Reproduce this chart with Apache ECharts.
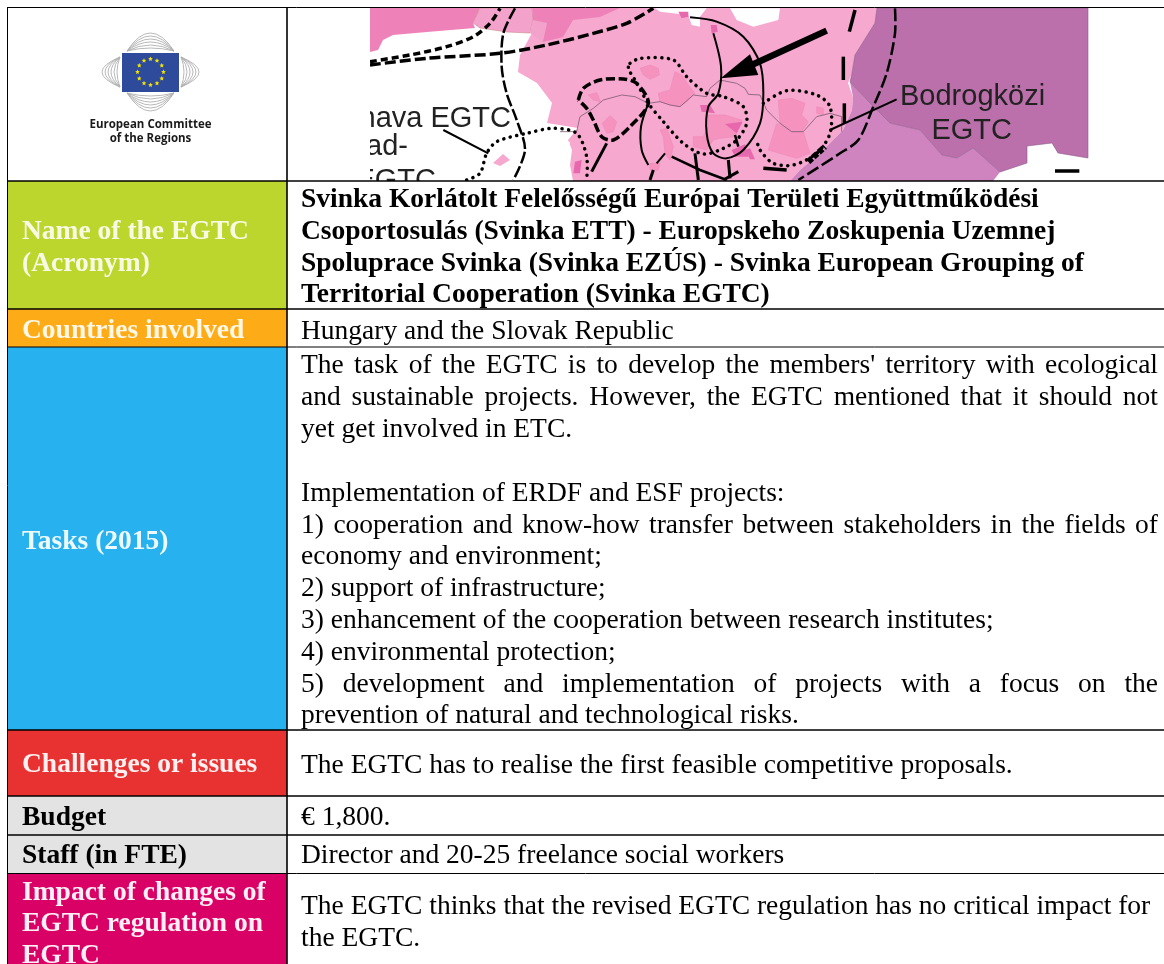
<!DOCTYPE html>
<html>
<head>
<meta charset="utf-8">
<style>
  html, body { margin: 0; padding: 0; background: #fff; }
  #main { width: 1164px; height: 964px; overflow: hidden; }
</style>
<script src="https://cdn.jsdelivr.net/npm/echarts@6/dist/echarts.min.js"></script>
</head>
<body>
<div id="main"></div>
<script>
// table content
var rowNames = [
  ['Name of the EGTC', '(Acronym)'],
  ['Countries involved'],
  ['Tasks (2015)'],
  ['Challenges or issues'],
  ['Budget'],
  ['Staff (in FTE)'],
  ['Impact of changes of', 'EGTC regulation on', 'EGTC']
];
var egtcName = [
  'Svinka Korlátolt Felelősségű Európai Területi Együttműködési',
  'Csoportosulás (Svinka ETT) - Europskeho Zoskupenia Uzemnej',
  'Spoluprace Svinka (Svinka EZÚS) - Svinka European Grouping of',
  'Territorial Cooperation (Svinka EGTC)'
];
var countries = ['Hungary and the Slovak Republic'];
var tasks = [
  "The task of the EGTC is to develop the members' territory with ecological",
  'and sustainable projects. However, the EGTC mentioned that it should not',
  'yet get involved in ETC.',
  '',
  'Implementation of ERDF and ESF projects:',
  '1) cooperation and know-how transfer between stakeholders in the fields of',
  'economy and environment;',
  '2) support of infrastructure;',
  '3) enhancement of the cooperation between research institutes;',
  '4) environmental protection;',
  '5) development and implementation of projects with a focus on the',
  'prevention of natural and technological risks.'
];
var challenges = ['The EGTC has to realise the first feasible competitive proposals.'];
var budget = ['€ 1,800.'];
var staff = ['Director and 20-25 freelance social workers'];
var impact = [
  'The EGTC thinks that the revised EGTC regulation has no critical impact for',
  'the EGTC.'
];
var logoText = ['European Committee', 'of the Regions'];
var mapLabels = ['Bodrogközi', 'EGTC', 'nava EGTC', 'rad-', 'EGTC'];

// layout of the table
var rowColors = ['#BDD62E', '#FDAB16', '#27B1EF', '#E83131', '#E3E3E3', '#E3E3E3', '#D90066'];
var nameColors = ['#F8FAE4', '#FFF8E8', '#EEF9FE', '#FEF0F0', '#000', '#000', '#FEEFF5'];
var rowEdges = [181, 309, 347, 730, 796, 835, 873, 964];
var nameY = [[232, 264], [331], [542], [765], [818], [856], [893, 924, 956]];
var bodyRows = [
  { lines: egtcName, y: [200, 232, 264, 295], bold: true },
  { lines: countries, y: [332] },
  { lines: tasks, y: [366, 398, 430, 462, 494, 526, 557, 589, 621, 653, 685, 716], justify: [0, 1, 5, 10] },
  { lines: challenges, y: [766] },
  { lines: budget, y: [818] },
  { lines: staff, y: [856] },
  { lines: impact, y: [907, 939] }
];
var serif = '"Liberation Serif", "Times New Roman", serif';
var textSize = 27.5;

var measure = document.createElement('canvas').getContext('2d');

function txt(api, x, y, text, font, fill, align) {
  var p = api.coord([x, y]);
  return {
    type: 'text',
    style: { x: p[0], y: p[1], text: text, font: font, fill: fill, align: align || 'left', verticalAlign: 'middle' }
  };
}
function box(api, x0, y0, x1, y1, fill) {
  var a = api.coord([x0, y0]), b = api.coord([x1, y1]);
  return { type: 'rect', shape: { x: a[0], y: a[1], width: b[0] - a[0], height: b[1] - a[1] }, style: { fill: fill } };
}
function rule(api, x0, y0, x1, y1, w) {
  var a = api.coord([x0, y0]), b = api.coord([x1, y1]);
  return { type: 'line', shape: { x1: a[0], y1: a[1], x2: b[0], y2: b[1] }, style: { stroke: '#000', lineWidth: w } };
}

// the map picture in the header cell
function area(api, pts, fill, stroke) {
  return {
    type: 'polygon',
    shape: { points: pts.map(function (p) { return api.coord(p); }) },
    style: { fill: fill, stroke: stroke || null, lineWidth: stroke ? 0.6 : 0 }
  };
}
function stroke(api, pts, w, dash, smooth) {
  return {
    type: 'polyline',
    shape: { points: pts.map(function (p) { return api.coord(p); }), smooth: smooth === undefined ? 0.3 : smooth },
    style: { fill: null, stroke: '#000', lineWidth: w, lineDash: dash || null, lineCap: dash && dash[0] < 1 ? 'round' : 'butt' }
  };
}
// zoomed crop coords: z2 starts at x 360, z7 at x 560, z3 at x 760, all scaled by 3
function zc(ox, list) {
  return list.map(function (p) { return [ox + p[0] / 3, p[1] / 3]; });
}
var dotted = [0.1, 6.5];

function renderMap(params, api) {
  var c = [];
  var pale = '#F6A8CF', mid = '#F592BE', dark = '#E868AE';
  c.push(area(api, [[532,33],[533,8],[877,8],[875,23],[855,55],[852,73],[848,83],[853,97],[852,110],[843,130],[820,153],[800,170],[790,181],[573,181],[570,165],[572,150],[568,140],[578,128],[547,123],[552,103],[537,83],[518,72],[520,55]], pale));
  c.push(area(api, [[370,8],[480,8],[473,23],[475,28],[427,32],[393,35],[383,40],[378,50],[370,52]], '#EE82B8'));
  c.push(area(api, [[473,23],[480,8],[532,8],[533,20],[530,33],[507,32],[480,28]], '#F3A2CB', '#C88'));
  c.push(area(api, [[532,8],[620,8],[600,17],[573,20],[563,37],[543,42],[533,20]], '#EE82B8'));
  c.push(area(api, [[533,20],[547,23],[543,42],[530,33]], '#F3A2CB'));
  // purple counties
  c.push(area(api, [[850,82],[870,103],[890,123],[920,130],[942,155],[957,158],[973,148],[1000,172],[993,181],[790,181],[800,170],[820,153],[843,130],[852,110],[853,97]], '#CF83BF'));
  c.push(area(api, [[877,8],[1088,8],[1088,158],[1058,153],[1052,143],[1027,146],[1027,163],[1000,172],[973,148],[957,158],[942,155],[920,130],[890,123],[870,103],[850,82],[852,73],[855,55],[875,23]], '#BB6FAB', '#8a5a88'));
  // holes at the top of the picture
  c.push(area(api, zc(560, [[285,25],[440,25],[420,50],[420,80],[395,75],[385,45],[300,35]]), '#fff'));
  c.push(area(api, zc(560, [[510,25],[660,25],[655,60],[580,80],[530,60]]), '#fff'));
  // member areas
  var z7 = [
    [[240,205],[270,195],[295,205],[298,225],[270,238],[250,225]],
    [[295,280],[330,270],[345,215],[365,225],[385,255],[405,280],[380,305],[360,320],[330,315],[300,305]],
    [[85,285],[110,278],[122,305],[100,300]],
    [[127,370],[150,347],[170,365],[160,395],[140,400]],
    [[445,345],[495,345],[545,360],[525,410],[480,415],[460,420],[440,450],[400,440],[400,410],[430,410],[445,380]],
    [[655,300],[695,295],[735,310],[725,345],[745,365],[725,395],[695,395],[660,370]],
    [[650,370],[695,395],[730,395],[750,460],[710,475],[625,450]],
    [[770,320],[790,325],[790,345],[770,340]],
    [[300,390],[320,385],[340,440],[330,480],[315,460],[310,410]],
    [[270,490],[300,490],[295,510],[270,510]]
  ];
  z7.forEach(function (z) { c.push(area(api, zc(560, z), mid, '#EE8AB8')); });
  var z7dark = [
    [[420,315],[450,315],[465,340],[425,335]],
    [[495,372],[548,365],[530,400]],
    [[515,450],[555,433],[565,470],[525,470]],
    [[555,450],[570,445],[585,478],[570,478]],
    [[355,35],[385,35],[385,50],[365,55]],
    [[452,75],[470,75],[473,95],[455,100]],
    [[45,485],[65,480],[60,520],[40,520]]
  ];
  z7dark.forEach(function (z) { c.push(area(api, zc(560, z), dark)); });
  c.push(area(api, [[493,163],[503,154],[510,160],[500,166]], pale));
  c.push(area(api, zc(560, [[0,430],[30,425],[20,470],[0,505]]), '#fff'));
  // state border
  var border = stroke(api, zc(560, [[0,395],[50,395],[60,350],[100,325],[130,300],[185,285],[225,290],[265,310],[300,305],[330,315],[360,320],[400,285],[440,290],[450,265],[480,240],[530,250],[555,265],[565,283],[600,285],[620,330],[660,370],[695,395],[730,395],[770,350],[810,340],[845,350],[845,395]]), 0.8, null, 0);
  border.style.stroke = '#7a5a70';
  c.push(border);
  // corridors, thick dashes
  c.push(stroke(api, zc(360, [[30,195],[200,175],[420,160],[560,135],[700,100],[800,70],[880,25]]), 3.5, [11, 4]));
  c.push(stroke(api, zc(360, [[30,185],[150,165],[260,140],[340,110],[390,70],[420,25]]), 3.5, [7, 4]));
  c.push(stroke(api, zc(360, [[465,25],[430,100],[425,200],[440,280],[470,360],[495,450],[460,540]]), 2.5, [12, 3]));
  c.push(stroke(api, zc(760, [[405,25],[405,100],[380,220],[340,320],[295,420],[240,460],[115,540]]), 2.5, [13, 4]));
  c.push(stroke(api, zc(560, [[55,300],[70,265],[120,240],[190,237],[230,250],[265,310],[210,380],[160,420],[125,410],[100,360],[80,325],[55,300]]), 3.5, [9, 3.5]));
  // dotted groupings
  c.push(stroke(api, zc(560, [[210,190],[240,175],[340,180],[380,230],[440,280],[490,290],[550,320],[560,370],[530,420],[490,445],[430,462],[370,430],[310,365],[265,310],[225,240],[205,205],[210,190]]), 3.5, dotted));
  c.push(stroke(api, zc(560, [[610,310],[680,272],[770,285],[810,320],[810,400],[770,460],[700,495],[640,490],[600,450],[590,420]]), 3.5, dotted));
  c.push(stroke(api, zc(360, [[320,540],[360,520],[380,460],[410,425],[500,400],[580,385],[650,400],[680,470],[680,540]]), 3.5, dotted));
  // thin solid lines
  c.push(stroke(api, zc(560, [[390,52],[470,65],[550,110],[600,190],[610,280],[600,370],[550,450],[500,475],[460,460],[440,400],[445,320],[475,280],[483,200],[460,100]]), 2));
  c.push(stroke(api, zc(560, [[265,310],[243,380],[245,450],[265,495]]), 2));
  [
    [[[315,460],[290,490]], 2],
    [[[280,510],[270,540]], 3],
    [[[140,430],[95,515]], 3],
    [[[335,470],[420,510],[500,540]], 2.5],
    [[[405,460],[415,540]], 3],
    [[[505,480],[510,535]], 3],
    [[[535,515],[490,540]], 3],
    [[[525,405],[535,440]], 2.5],
    [[[610,505],[680,510]], 3.5],
    [[[853,310],[853,370]], 3.5],
    [[[850,170],[850,240]], 3.5],
    [[[885,30],[868,95]], 3.5]
  ].forEach(function (s) { c.push(stroke(api, zc(560, s[0]), s[1], null, 0)); });
  c.push(stroke(api, zc(760, [[145,485],[195,440]]), 6, [5, 2], 0));
  c.push(stroke(api, zc(760, [[885,513],[958,513]]), 3.5, null, 0));
  // arrow
  c.push(stroke(api, zc(560, [[800,92],[575,195]]), 6.5, null, 0));
  c.push(area(api, zc(560, [[482,235],[570,163],[595,225]]), '#000'));
  // labels and leaders
  var sans = '29px "Liberation Sans", Arial, sans-serif';
  c.push(txt(api, 900, 97, mapLabels[0], sans, '#222'));
  c.push(txt(api, 1012, 131, mapLabels[1], sans, '#222', 'right'));
  c.push(txt(api, 511, 119, mapLabels[2], sans, '#222', 'right'));
  c.push(txt(api, 408, 147, mapLabels[3], sans, '#222', 'right'));
  c.push(txt(api, 436, 181, mapLabels[4], sans, '#222', 'right'));
  c.push(stroke(api, zc(760, [[410,298],[210,390]]), 2, null, 0));
  c.push(stroke(api, zc(360, [[250,390],[385,460]]), 2, null, 0));
  // cut the picture at its own edge
  c.push(box(api, 288, 8, 370, 181, '#fff'));
  return { type: 'group', children: c };
}

function star(api, cx, cy, r) {
  var pts = [];
  for (var i = 0; i < 10; i++) {
    var a = -Math.PI / 2 + i * Math.PI / 5, q = i % 2 ? r * 0.45 : r;
    pts.push([cx + q * Math.cos(a), cy + q * Math.sin(a)]);
  }
  return area(api, pts, '#F5E400');
}
function fan(api, a, b, cx, cy) {
  var p = api.coord(a), q = api.coord(b), k = api.coord([cx, cy]);
  return { type: 'bezierCurve', shape: { x1: p[0], y1: p[1], x2: q[0], y2: q[1], cpx1: k[0], cpy1: k[1] }, style: { fill: null, stroke: '#b0b0b0', lineWidth: 0.9 } };
}

function renderLogo(params, api) {
  var c = [], i;
  for (i = 0; i < 6; i++) {
    var off = 6 + i * 6;
    c.push(fan(api, [127, 51], [174, 51], 150.5, 51 - off));
    c.push(fan(api, [127, 93], [174, 93], 150.5, 93 + off));
    c.push(fan(api, [120, 57], [120, 87], 120 - off, 72));
    c.push(fan(api, [181, 57], [181, 87], 181 + off, 72));
  }
  c.push(box(api, 122, 53, 179, 92, '#2D4A9B'));
  for (i = 0; i < 12; i++) {
    var a = i * Math.PI / 6;
    c.push(star(api, 150.5 + 13 * Math.sin(a), 72 - 13 * Math.cos(a), 2.5));
  }
  var f = 'bold 11.5px "Open Sans", "Noto Sans", sans-serif';
  c.push(txt(api, 150.5, 125, logoText[0], f, '#1a1a1a', 'center'));
  c.push(txt(api, 150.5, 139, logoText[1], f, '#1a1a1a', 'center'));
  return { type: 'group', children: c };
}

function renderRow(params, api) {
  var i = params.dataIndex, c = [];
  c.push(box(api, 8, rowEdges[i], 287, rowEdges[i + 1], rowColors[i]));
  c.push(box(api, 287, rowEdges[i], 1164, rowEdges[i + 1], '#fff'));
  var nameFont = 'bold ' + textSize + 'px ' + serif;
  rowNames[i].forEach(function (s, k) {
    c.push(txt(api, 22, nameY[i][k], s, nameFont, nameColors[i]));
  });
  var r = bodyRows[i];
  var font = (r.bold ? 'bold ' : '') + textSize + 'px ' + serif;
  measure.font = font;
  r.lines.forEach(function (s, k) {
    if (!s) return;
    if (r.justify && r.justify.indexOf(k) >= 0) {
      // Word-style justified line, right edge of the text column
      var words = s.split(' ');
      var w = words.map(function (t) { return measure.measureText(t).width; });
      var gap = (1158 - 301 - w.reduce(function (a, b) { return a + b; }, 0)) / (words.length - 1);
      var x = 301;
      words.forEach(function (t, n) {
        c.push(txt(api, x, r.y[k], t, font, '#000'));
        x += w[n] + gap;
      });
    } else {
      c.push(txt(api, 301, r.y[k], s, font, '#000'));
    }
  });
  return { type: 'group', children: c };
}

function renderRules(params, api) {
  var c = [];
  c.push(rule(api, 7, 7.5, 1164, 7.5, 1));
  c.push(rule(api, 7.5, 7, 7.5, 964, 1));
  c.push(rule(api, 287, 7, 287, 964, 1.6));
  c.push(rule(api, 7, 181, 1164, 181, 1.6));
  c.push(rule(api, 7, 309, 1164, 309, 1.6));
  c.push(rule(api, 7, 347, 1164, 347, 1));
  c.push(rule(api, 7, 730, 1164, 730, 1.6));
  c.push(rule(api, 7, 796, 1164, 796, 1.6));
  c.push(rule(api, 7, 835, 1164, 835, 1.6));
  c.push(rule(api, 7, 873.5, 1164, 873.5, 1));
  return { type: 'group', children: c };
}

var chart = echarts.init(document.getElementById('main'));
chart.setOption({
  animation: false,
  grid: { left: 0, right: 0, top: 0, bottom: 0 },
  xAxis: { type: 'value', min: 0, max: 1164, show: false },
  yAxis: { type: 'value', min: 0, max: 964, inverse: true, show: false },
  series: [
    { type: 'custom', silent: true, clip: true, renderItem: renderMap, data: [[0, 0]] },
    { type: 'custom', silent: true, renderItem: renderLogo, data: [[0, 0]] },
    { type: 'custom', silent: true, clip: true, renderItem: renderRow, data: rowNames.map(function (n, i) { return [0, i]; }) },
    { type: 'custom', silent: true, renderItem: renderRules, data: [[0, 0]] }
  ]
});
</script>
</body>
</html>
